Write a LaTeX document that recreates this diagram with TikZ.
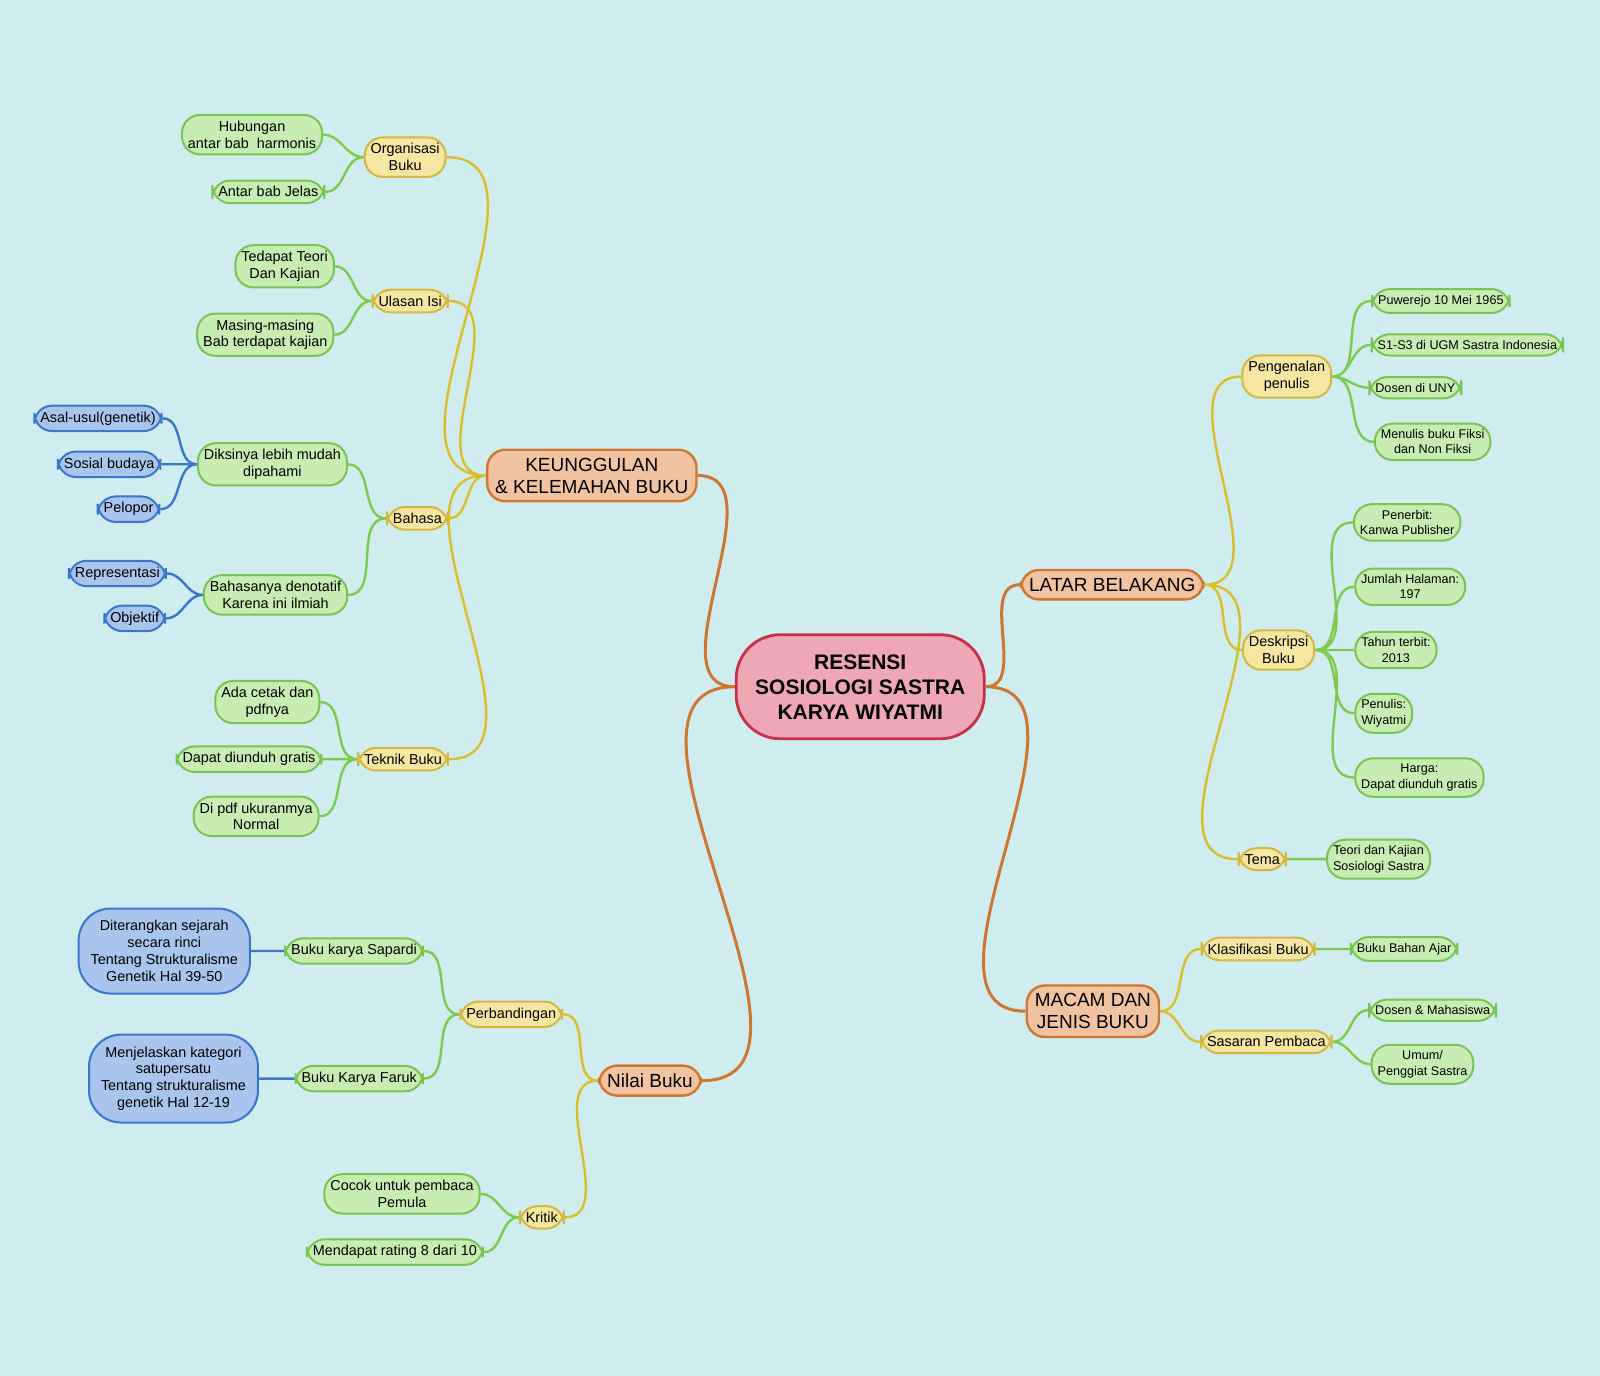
\documentclass[tikz,border=0pt]{standalone}
\usepackage{fontspec}
\setmainfont{Liberation Sans}
\begin{document}
\begin{tikzpicture}[x=0.51pt,y=-0.51pt,
 base/.style={rounded corners=9pt,align=center,line width=1pt,inner sep=3pt,font=\fontsize{7.2}{8.4}\selectfont},
 ctr/.style={base,fill=cpink,draw=cpinkd,line width=1.4pt,rounded corners=22pt,font=\bfseries\fontsize{10.5}{12.5}\selectfont,minimum width=124pt,minimum height=52pt},
 mainn/.style={base,fill=corange,draw=corangeD,line width=1.2pt,font=\fontsize{9.5}{11}\selectfont,inner sep=4pt},
 yel/.style={base,fill=cyel,draw=cyelD},
 grn/.style={base,fill=cgrn,draw=cgrnD},
 sgrn/.style={grn,font=\fontsize{6.3}{7.6}\selectfont},
 blu/.style={base,fill=cblu,draw=cbluD},
 mlink/.style={draw=corangeD,line width=1.5pt},
 ylink/.style={draw=cyelL,line width=1.2pt},
 glink/.style={draw=cgrnL,line width=1.2pt},
 blink/.style={draw=cbluD,line width=1.2pt}]
\definecolor{bg}{HTML}{CFEDEE}
\definecolor{cpink}{HTML}{EFA7B3}\definecolor{cpinkd}{HTML}{C8304A}
\definecolor{corange}{HTML}{F2C3A1}\definecolor{corangeD}{HTML}{CF7633}
\definecolor{cyel}{HTML}{F5E6A2}\definecolor{cyelD}{HTML}{D4B844}\definecolor{cyelL}{HTML}{D9BF2E}
\definecolor{cgrn}{HTML}{C8EDB2}\definecolor{cgrnD}{HTML}{78C455}\definecolor{cgrnL}{HTML}{7CCB4E}
\definecolor{cblu}{HTML}{A9C5EE}\definecolor{cbluD}{HTML}{3A76CC}
\fill[bg] (0,0) rectangle (1568,1348);
\useasboundingbox (0,0) rectangle (1568,1348);
% nodes
\node[ctr] (c) at (843,673) {RESENSI\\SOSIOLOGI SASTRA\\KARYA WIYATMI};
\node[mainn] (k) at (580,466) {KEUNGGULAN\\\& KELEMAHAN BUKU};
\node[mainn] (l) at (1090,573) {LATAR BELAKANG};
\node[mainn] (m) at (1071,991) {MACAM DAN\\JENIS BUKU};
\node[mainn] (n) at (637,1059) {Nilai Buku};
% left K
\node[yel] (ob) at (397,154) {Organisasi\\Buku};
\node[grn] (ob1) at (247,132) {Hubungan\\antar bab \ harmonis};
\node[grn] (ob2) at (263,188) {Antar bab Jelas};
\node[yel] (ui) at (402,295) {Ulasan Isi};
\node[grn] (ui1) at (279,261) {Tedapat Teori\\Dan Kajian};
\node[grn] (ui2) at (260,328) {Masing-masing\\Bab terdapat kajian};
\node[yel] (ba) at (409,508) {Bahasa};
\node[grn] (ba1) at (267,455) {Diksinya lebih mudah\\dipahami};
\node[blu] (b11) at (96,410) {Asal-usul(genetik)};
\node[blu] (b12) at (107,455) {Sosial budaya};
\node[blu] (b13) at (126,499) {Pelopor};
\node[grn] (ba2) at (270,583) {Bahasanya denotatif\\Karena ini ilmiah};
\node[blu] (b21) at (115,562) {Representasi};
\node[blu] (b22) at (132,606) {Objektif};
\node[yel] (tb) at (395,744) {Teknik Buku};
\node[grn] (tb1) at (262,688) {Ada cetak dan\\pdfnya};
\node[grn] (tb2) at (244,744) {Dapat diunduh gratis};
\node[grn] (tb3) at (251,800) {Di pdf ukuranmya\\Normal};
% right L
\node[yel] (pp) at (1261,369) {Pengenalan\\penulis};
\node[sgrn] (pp1) at (1412,295) {Puwerejo 10 Mei 1965};
\node[sgrn] (pp2) at (1438,338) {S1-S3 di UGM Sastra Indonesia};
\node[sgrn] (pp3) at (1387,380) {Dosen di UNY};
\node[sgrn] (pp4) at (1404,433) {Menulis buku Fiksi\\dan Non Fiksi};
\node[yel] (db) at (1253,637) {Deskripsi\\Buku};
\node[sgrn] (db1) at (1379,512) {Penerbit:\\Kanwa Publisher};
\node[sgrn] (db2) at (1382,575) {Jumlah Halaman:\\197};
\node[sgrn] (db3) at (1368,637) {Tahun terbit:\\2013};
\node[sgrn] (db4) at (1356,699) {Penulis:\\Wiyatmi};
\node[sgrn] (db5) at (1391,762) {Harga:\\Dapat diunduh gratis};
\node[yel] (te) at (1237,842) {Tema};
\node[sgrn] (te1) at (1351,842) {Teori dan Kajian\\Sosiologi Sastra};
% M
\node[yel] (kb) at (1233,930) {Klasifikasi Buku};
\node[sgrn] (kb1) at (1376,930) {Buku Bahan Ajar};
\node[yel] (sp) at (1241,1021) {Sasaran Pembaca};
\node[sgrn] (sp1) at (1404,990) {Dosen \& Mahasiswa};
\node[sgrn] (sp2) at (1394,1043) {Umum/\\Penggiat Sastra};
% N
\node[yel] (pb) at (501,994) {Perbandingan};
\node[grn] (pb1) at (347,932) {Buku karya Sapardi};
\node[blu,rounded corners=16pt,inner sep=6pt] (pb1a) at (161,932) {Diterangkan sejarah\\secara rinci\\Tentang Strukturalisme\\Genetik Hal 39-50};
\node[grn] (pb2) at (352,1057) {Buku Karya Faruk};
\node[blu,rounded corners=16pt,inner sep=6pt] (pb2a) at (170,1057) {Menjelaskan kategori\\satupersatu\\Tentang strukturalisme\\genetik Hal 12-19};
\node[yel] (kr) at (531,1193) {Kritik};
\node[grn] (kr1) at (394,1170) {Cocok untuk pembaca\\Pemula};
\node[grn] (kr2) at (387,1227) {Mendapat rating 8 dari 10};
% links
\begin{scope}[on background layer/.style={}]
\end{scope}
\path[mlink] (c.west) to[out=180,in=0] (k.east) (c.west) to[out=180,in=0] (n.east)
 (c.east) to[out=0,in=180] (l.west) (c.east) to[out=0,in=180] (m.west);
\path[ylink] (k.west) to[out=180,in=0] (ob.east) (k.west) to[out=180,in=0] (ui.east)
 (k.west) to[out=180,in=0] (ba.east) (k.west) to[out=180,in=0] (tb.east)
 (l.east) to[out=0,in=180] (pp.west) (l.east) to[out=0,in=180] (db.west) (l.east) to[out=0,in=180] (te.west)
 (m.east) to[out=0,in=180] (kb.west) (m.east) to[out=0,in=180] (sp.west)
 (n.west) to[out=180,in=0] (pb.east) (n.west) to[out=180,in=0] (kr.east);
\path[glink] (ob.west) to[out=180,in=0] (ob1.east) (ob.west) to[out=180,in=0] (ob2.east)
 (ui.west) to[out=180,in=0] (ui1.east) (ui.west) to[out=180,in=0] (ui2.east)
 (ba.west) to[out=180,in=0] (ba1.east) (ba.west) to[out=180,in=0] (ba2.east)
 (tb.west) to[out=180,in=0] (tb1.east) (tb.west) to[out=180,in=0] (tb2.east) (tb.west) to[out=180,in=0] (tb3.east)
 (pp.east) to[out=0,in=180] (pp1.west) (pp.east) to[out=0,in=180] (pp2.west) (pp.east) to[out=0,in=180] (pp3.west) (pp.east) to[out=0,in=180] (pp4.west)
 (db.east) to[out=0,in=180] (db1.west) (db.east) to[out=0,in=180] (db2.west) (db.east) to[out=0,in=180] (db3.west) (db.east) to[out=0,in=180] (db4.west) (db.east) to[out=0,in=180] (db5.west)
 (te.east) -- (te1.west) (kb.east) -- (kb1.west)
 (sp.east) to[out=0,in=180] (sp1.west) (sp.east) to[out=0,in=180] (sp2.west)
 (pb.west) to[out=180,in=0] (pb1.east) (pb.west) to[out=180,in=0] (pb2.east)
 (kr.west) to[out=180,in=0] (kr1.east) (kr.west) to[out=180,in=0] (kr2.east);
\path[blink] (ba1.west) to[out=180,in=0] (b11.east) (ba1.west) to[out=180,in=0] (b12.east) (ba1.west) to[out=180,in=0] (b13.east)
 (ba2.west) to[out=180,in=0] (b21.east) (ba2.west) to[out=180,in=0] (b22.east)
 (pb1.west) -- (pb1a.east) (pb2.west) -- (pb2a.east);
\end{tikzpicture}
\end{document}
